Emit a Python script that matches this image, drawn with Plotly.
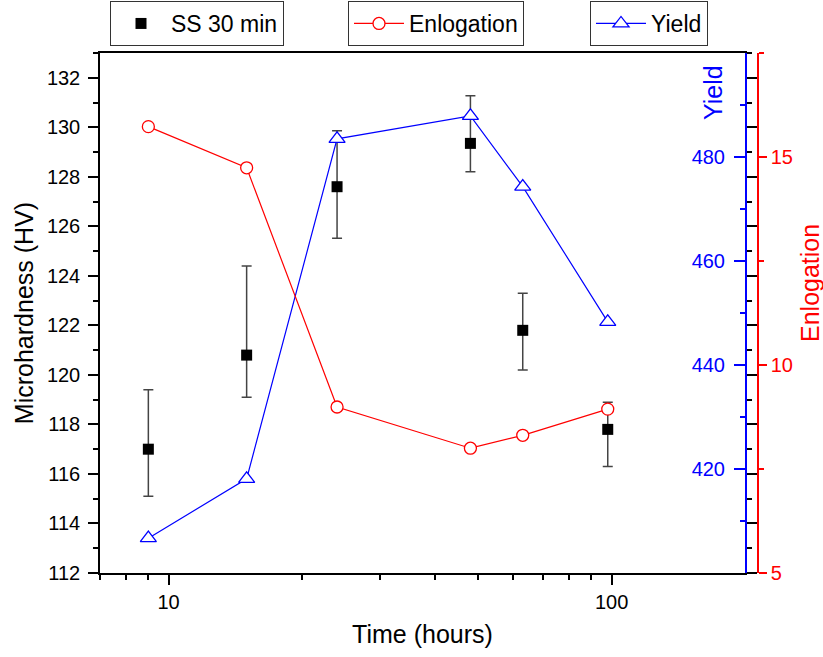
import math
import plotly.graph_objects as go

# ---- data ----
time_h = [9, 15, 24, 48, 63, 98]
hardness = [117.0, 120.8, 127.6, 129.35, 121.8, 117.8]
hardness_err_plus = [2.4, 3.6, 2.26, 1.92, 1.5, 1.1]
hardness_err_minus = [1.9, 1.7, 2.08, 1.15, 1.6, 1.5]
elongation = [15.73, 14.74, 8.99, 8.0, 8.31, 8.94]
yield_strength = [406.7, 418.1, 483.5, 487.9, 474.3, 448.3]

x_major = [10, 100]
x_minor = [7, 8, 9, 20, 30, 40, 50, 60, 70, 80, 90, 200]
hv_major = list(range(112, 133, 2))
hv_minor = list(range(113, 134, 2))
ys_major = [420, 440, 460, 480]
ys_minor = [410, 430, 450, 470, 490]
el_major = [5, 10, 15]
el_minor = [7.5, 12.5, 17.5]

FONT = "Liberation Sans, Arial, sans-serif"
W, H = 823, 657
ML, MR, MT, MB = 100, 65, 53, 84
plot_right = 745
paper_w = W - ML - MR
paper_h = H - MT - MB
x_dom_end = (plot_right - ML) / paper_w

fig = go.Figure()

fig.add_trace(go.Scatter(
    x=time_h, y=hardness, mode="markers", name="SS 30 min",
    marker=dict(symbol="square", size=11, color="black"),
    error_y=dict(type="data", symmetric=False, array=hardness_err_plus,
                 arrayminus=hardness_err_minus, color="#444444",
                 thickness=1.5, width=5),
    yaxis="y", legend="legend", showlegend=True,
))

fig.add_trace(go.Scatter(
    x=time_h, y=yield_strength, mode="lines+markers", name="Yield",
    line=dict(color="#0000FF", width=1.2),
    marker=dict(symbol="triangle-up", size=14, color="white",
                line=dict(color="#0000FF", width=1.3)),
    yaxis="y2", legend="legend3", showlegend=True,
))

fig.add_trace(go.Scatter(
    x=time_h, y=elongation, mode="lines+markers", name="Enlogation",
    line=dict(color="#FF0000", width=1.2),
    marker=dict(symbol="circle", size=12, color="white",
                line=dict(color="#FF0000", width=1.3)),
    yaxis="y3", legend="legend2", showlegend=True,
))

x_range = [math.log10(7), math.log10(200)]

fig.update_layout(
    width=W, height=H,
    margin=dict(l=ML, r=MR, t=MT, b=MB, pad=0, autoexpand=False),
    paper_bgcolor="white", plot_bgcolor="white",
    showlegend=True,
    font=dict(family=FONT, size=20, color="black"),
    xaxis=dict(
        type="log", range=x_range, domain=[0, x_dom_end],
        tickmode="array", tickvals=x_major, ticktext=[str(v) for v in x_major],
        ticks="outside", ticklen=10, tickwidth=1.5, tickcolor="black",
        minor=dict(tickmode="array", tickvals=x_minor, ticks="outside",
                   ticklen=5, tickwidth=1.5, tickcolor="black", showgrid=False),
        showline=True, linecolor="black", linewidth=1.5, mirror=True,
        showgrid=False, zeroline=False,
        tickfont=dict(size=20, color="black"),
        title=dict(text="Time (hours)", font=dict(size=25), standoff=14),
    ),
    xaxis2=dict(
        type="log", range=x_range, domain=[0, x_dom_end],
        overlaying="x", side="top", anchor="y",
        tickmode="array", tickvals=x_major, showticklabels=False,
        ticks="inside", ticklen=10, tickwidth=1.5, tickcolor="black",
        minor=dict(tickmode="array", tickvals=x_minor, ticks="inside",
                   ticklen=5, tickwidth=1.5, tickcolor="black", showgrid=False),
        showline=False, showgrid=False, zeroline=False,
    ),
    yaxis=dict(
        range=[112, 133],
        tickmode="array", tickvals=hv_major,
        ticks="outside", ticklen=10, tickwidth=1.5, tickcolor="black",
        minor=dict(tickmode="array", tickvals=hv_minor, ticks="outside",
                   ticklen=5, tickwidth=1.5, tickcolor="black", showgrid=False),
        showline=True, linecolor="black", linewidth=1.5, mirror="ticks",
        showgrid=False, zeroline=False,
        ticklabelstandoff=4,
        tickfont=dict(size=20, color="black"),
        title=dict(text="Microhardness (HV)", font=dict(size=25), standoff=6),
    ),
    yaxis2=dict(
        range=[400, 500], overlaying="y", side="right", anchor="x",
        tickmode="array", tickvals=ys_major,
        ticks="inside", ticklen=11, tickwidth=1.5, tickcolor="#0000FF",
        ticklabelposition="inside", ticklabelstandoff=10,
        minor=dict(tickmode="array", tickvals=ys_minor, ticks="inside",
                   ticklen=5, tickwidth=1.5, tickcolor="#0000FF", showgrid=False),
        showline=True, linecolor="#0000FF", linewidth=2,
        showgrid=False, zeroline=False,
        tickfont=dict(size=20, color="#0000FF"),
    ),
    yaxis3=dict(
        range=[5, 17.5], overlaying="y", side="right", anchor="free", position=1.0,
        tickmode="array", tickvals=el_major,
        ticks="outside", ticklen=8, tickwidth=1.5, tickcolor="#FF0000",
        minor=dict(tickmode="array", tickvals=el_minor, ticks="outside",
                   ticklen=5, tickwidth=1.5, tickcolor="#FF0000", showgrid=False),
        showline=True, linecolor="#FF0000", linewidth=1.5,
        showgrid=False, zeroline=False,
        tickfont=dict(size=20, color="#FF0000"),
    ),
)

legend_style = dict(
    orientation="h", yanchor="top", xanchor="left",
    bordercolor="#333333", borderwidth=1, bgcolor="white",
    font=dict(family=FONT, size=23, color="black"), itemwidth=50,
)
legend_top = 1 + (MT - 1) / paper_h
fig.update_layout(
    legend=dict(x=(110 - ML) / paper_w, y=legend_top, **legend_style),
    legend2=dict(x=(348 - ML) / paper_w, y=legend_top, **legend_style),
    legend3=dict(x=(590 - ML) / paper_w, y=legend_top, **legend_style),
)

# right-hand axis titles
fig.add_annotation(
    text="Yield", xref="paper", yref="paper",
    x=(713 - ML) / paper_w, y=1 - (93 - MT) / paper_h,
    xanchor="center", yanchor="middle",
    textangle=-90, showarrow=False,
    font=dict(family=FONT, size=25, color="#0000FF"),
)
fig.add_annotation(
    text="Enlogation", xref="paper", yref="paper",
    x=(810 - ML) / paper_w, y=1 - (283 - MT) / paper_h,
    xanchor="center", yanchor="middle",
    textangle=-90, showarrow=False,
    font=dict(family=FONT, size=25, color="#FF0000"),
)

fig.write_html("out.html")
